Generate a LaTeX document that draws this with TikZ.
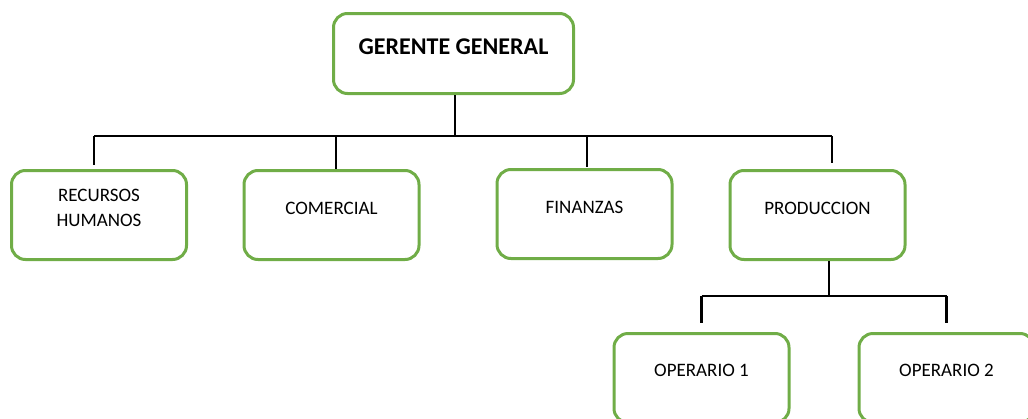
\documentclass[tikz,border=0pt]{standalone}
\usepackage{fontspec}
\setmainfont{Carlito}
\usepackage{tikz}
\usetikzlibrary{positioning}
\definecolor{boxgreen}{RGB}{112,173,71}
\tikzstyle{area} = [rectangle, rounded corners=14pt, draw=boxgreen, line width=3pt, fill=white, minimum width=175pt, minimum height=89pt, text centered, font=\fontsize{19}{25}\selectfont, text height=12.2pt, text depth=13.8pt]
\tikzstyle{boss} = [area, minimum width=240pt, minimum height=80pt, font=\fontsize{24}{28}\selectfont\bfseries, text height=15.4pt, text depth=13.6pt]
\tikzstyle{line} = [line width=2.5pt, black]

\begin{document}
\begin{tikzpicture}[x=1pt,y=-1pt]
				\useasboundingbox (0,0) rectangle (1028,418);
				\clip (0,0) rectangle (1028,418);
				\node[boss] (gg) at (453.5,53.5) {GERENTE GENERAL};
				\node[area, align=center, text height=36.2pt] (rh) at (99,215) {RECURSOS\\HUMANOS};
				\node[area] (com) at (331.5,215) {COMERCIAL};
				\node[area] (fin) at (584.5,214) {FINANZAS};
				\node[area] (prod) at (817.5,215) {PRODUCCION};
				\node[area, text depth=16pt] (op1) at (701.5,378) {OPERARIO 1};
				\node[area, text depth=16pt] (op2) at (946.5,378) {OPERARIO 2};
				\coordinate (bus) at (455,136);
				\coordinate (sub) at (829,296);
				\draw[line] (gg.south -| bus) -- (bus);
				\draw[line] ([xshift=-5]rh.north |- bus) -- ([xshift=14.5]prod.north |- bus);
				\draw[line] ([xshift=-5]rh.north |- bus) -- ([xshift=-5,yshift=4]rh.north);
				\draw[line] ([xshift=4.5]com.north |- bus) -- ([xshift=4.5]com.north);
				\draw[line] ([xshift=2.5]fin.north |- bus) -- ([xshift=2.5,yshift=1]fin.north);
				\draw[line] ([xshift=14.5]prod.north |- bus) -- ([xshift=14.5,yshift=6]prod.north);
				\draw[line] (prod.south -| sub) -- (sub);
				\draw[line] (op1.north |- sub) -- (op2.north |- sub);
				\draw[line] (op1.north |- sub) -- ([yshift=9]op1.north);
				\draw[line] (op2.north |- sub) -- ([yshift=9]op2.north);
			\end{tikzpicture}
\end{document}
